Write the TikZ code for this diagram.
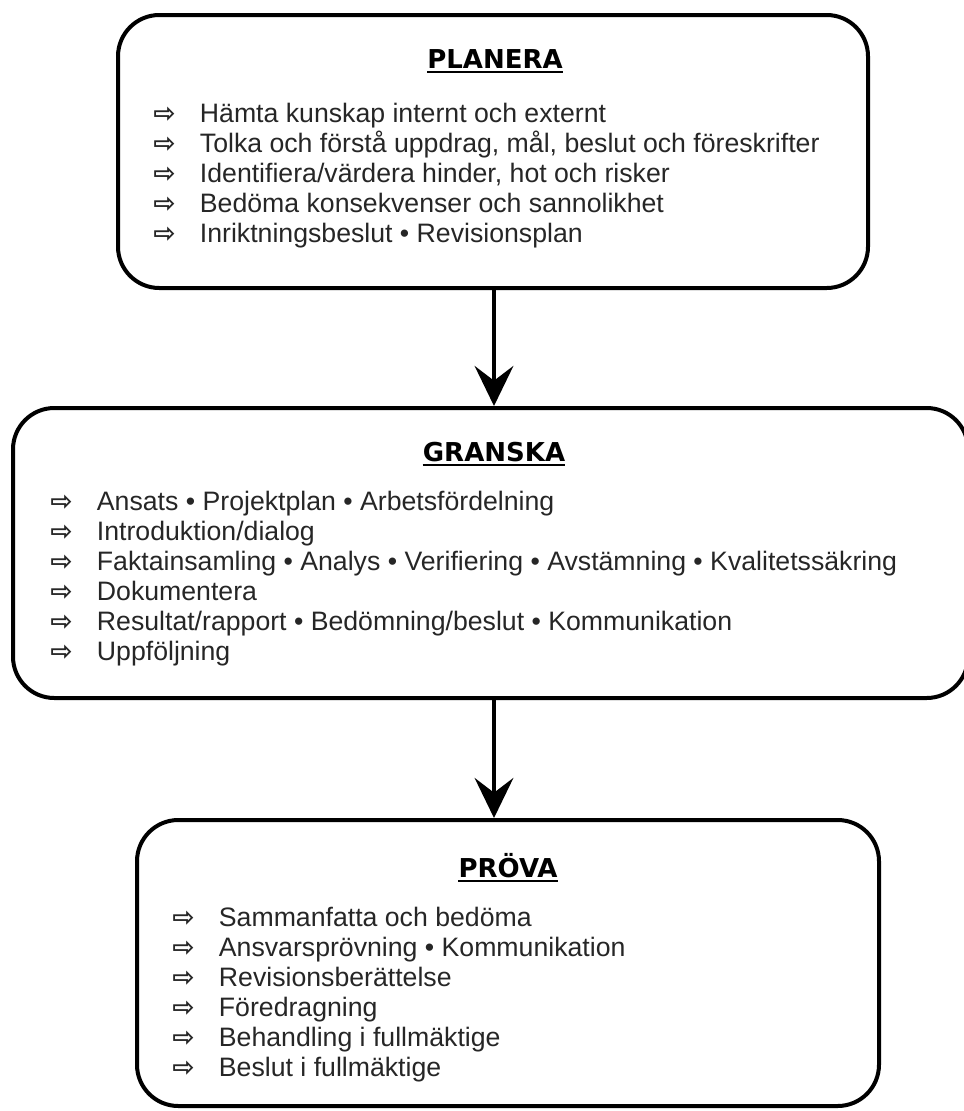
\documentclass[tikz,border=0pt]{standalone}
\usepackage{fontspec}
\setmainfont{Liberation Sans}
\newfontfamily\rubrikfont{DejaVu Sans Bold}
\newfontfamily\pilfont{DejaVu Sans Bold}
\usetikzlibrary{arrows.meta}
\newcommand{\pkt}{\makebox[35pt][l]{\pilfont\char"21E8}}
\tikzset{
  fas/.style={draw, line width=3pt, rounded corners=31pt, inner sep=0pt},
  rubrik/.style={font=\rubrikfont\fontsize{19.5}{23}\selectfont, inner sep=0pt, anchor=base},
  understruken/.style={line width=2pt},
  % ankaret ligger vid sista radens baslinje
  punkter/.style={font=\fontsize{20}{22.5}\selectfont, text=black!85, align=left,
    inner sep=0pt, anchor=base west},
  flode/.style={line width=3pt, -{Stealth[length=30pt,width=29pt,inset=11pt]}}
}
\begin{document}
\begin{tikzpicture}[x=0.75pt,y=-0.75pt]
  \useasboundingbox (0,0) rectangle (964,1111);
  \coordinate (mitt) at (494,0);
  % de tre faserna
  \node[fas, minimum width=562.5pt, minimum height=204.75pt] (planera) at (493,151.5) {};
  \node[fas, minimum width=716.25pt, minimum height=217.5pt] (granska) at (490.5,553) {};
  \node[fas, minimum width=556.5pt, minimum height=214.5pt] (prova) at (508,963) {};
  % rubriker
  \node[rubrik] (planera-rubrik) at (495,68) {PLANERA};
  \node[rubrik] (granska-rubrik) at (494,461) {GRANSKA};
  \node[rubrik] (prova-rubrik) at (508,877) {PRÖVA};
  \foreach \r in {planera-rubrik,granska-rubrik,prova-rubrik}
    \draw[understruken] ([yshift=-3pt]\r.base west) -- ([yshift=-3pt]\r.base east);
  % punkter
  \node[punkter] (planera-punkter) at (153,242) {\pkt Hämta kunskap internt och externt\\
    \pkt Tolka och förstå uppdrag, mål, beslut och föreskrifter\\
    \pkt Identifiera/värdera hinder, hot och risker\\
    \pkt Bedöma konsekvenser och sannolikhet\\
    \pkt Inriktningsbeslut • Revisionsplan};
  \node[punkter] (granska-punkter) at (50,660) {\pkt Ansats • Projektplan • Arbetsfördelning\\
    \pkt Introduktion/dialog\\
    \pkt Faktainsamling • Analys • Verifiering • Avstämning • Kvalitetssäkring\\
    \pkt Dokumentera\\
    \pkt Resultat/rapport • Bedömning/beslut • Kommunikation\\
    \pkt Uppföljning};
  \node[punkter] (prova-punkter) at (172,1076) {\pkt Sammanfatta och bedöma\\
    \pkt Ansvarsprövning • Kommunikation\\
    \pkt Revisionsberättelse\\
    \pkt Föredragning\\
    \pkt Behandling i fullmäktige\\
    \pkt Beslut i fullmäktige};
  % flödet
  \draw[flode] (planera.south -| mitt) -- (granska.north -| mitt);
  \draw[flode] (granska.south -| mitt) -- (prova.north -| mitt);
\end{tikzpicture}
\end{document}
